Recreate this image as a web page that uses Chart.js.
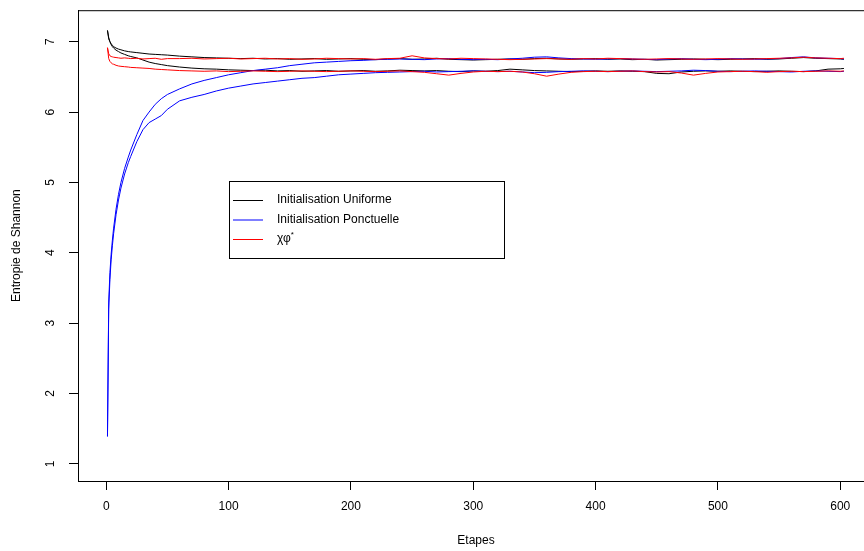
<!DOCTYPE html>
<html>
<head>
<meta charset="utf-8">
<script src="https://cdn.jsdelivr.net/npm/chart.js@4.4.1/dist/chart.umd.min.js"></script>
<style>
  html, body { margin: 0; padding: 0; background: #fff; }
  #wrap { width: 864px; height: 551px; }
</style>
</head>
<body>
<div id="wrap"><canvas id="lineChart" width="864" height="551"></canvas></div>
<script>
// etapes (x) shared by every curve
var etapes = [1,2,3,4,5,6,8,10,12,15,18,20,25,30,35,40,45,50,
  60,70,80,90,100,110,120,130,140,150,160,170,180,190,200,210,220,230,240,250,
  260,270,280,290,300,310,320,330,340,350,360,370,380,390,400,410,420,430,440,450,
  460,470,480,490,500,510,520,530,540,550,560,570,580,590,600,603];

var uniforme1 = [7.16,7.06,7.00,6.97,6.95,6.93,6.91,6.895,6.885,6.87,6.86,6.855,6.845,6.835,6.825,6.82,6.815,6.81,
  6.795,6.785,6.775,6.77,6.765,6.76,6.765,6.755,6.76,6.75,6.755,6.76,6.75,6.755,6.76,6.75,6.745,6.755,6.76,6.75,
  6.755,6.765,6.75,6.745,6.74,6.745,6.75,6.755,6.75,6.76,6.765,6.755,6.75,6.755,6.76,6.75,6.755,6.745,6.75,6.74,
  6.745,6.75,6.755,6.75,6.745,6.75,6.755,6.76,6.75,6.755,6.765,6.775,6.765,6.76,6.755,6.75];

var uniforme2 = [7.16,7.04,7.00,6.96,6.93,6.91,6.88,6.86,6.84,6.82,6.80,6.79,6.77,6.74,6.71,6.69,6.675,6.66,
  6.64,6.625,6.615,6.61,6.60,6.595,6.59,6.595,6.585,6.59,6.58,6.585,6.59,6.58,6.585,6.59,6.58,6.585,6.595,6.59,
  6.585,6.59,6.58,6.575,6.585,6.58,6.59,6.61,6.60,6.59,6.585,6.58,6.575,6.58,6.585,6.58,6.585,6.58,6.575,6.55,
  6.545,6.57,6.58,6.585,6.58,6.585,6.58,6.575,6.58,6.585,6.58,6.575,6.585,6.61,6.615,6.62];

var ponctuelle1 = [1.39,3.30,3.72,3.98,4.18,4.35,4.62,4.83,5.00,5.20,5.36,5.46,5.68,5.88,6.00,6.11,6.19,6.25,
  6.33,6.40,6.45,6.49,6.53,6.56,6.59,6.61,6.63,6.66,6.68,6.70,6.71,6.72,6.73,6.735,6.745,6.75,6.755,6.75,
  6.745,6.755,6.76,6.75,6.745,6.75,6.745,6.755,6.765,6.78,6.785,6.77,6.76,6.755,6.75,6.755,6.76,6.755,6.75,6.745,
  6.755,6.76,6.75,6.745,6.75,6.76,6.755,6.75,6.755,6.76,6.775,6.785,6.77,6.765,6.76,6.755];

var ponctuelle2 = [1.39,3.20,3.62,3.90,4.10,4.27,4.54,4.75,4.92,5.12,5.28,5.37,5.58,5.75,5.85,5.90,5.95,6.04,
  6.16,6.21,6.25,6.30,6.34,6.37,6.40,6.42,6.44,6.46,6.48,6.49,6.51,6.53,6.54,6.55,6.56,6.565,6.57,6.575,
  6.58,6.57,6.575,6.58,6.585,6.58,6.575,6.58,6.57,6.56,6.565,6.575,6.58,6.585,6.58,6.575,6.58,6.585,6.58,6.575,
  6.58,6.585,6.595,6.59,6.58,6.575,6.58,6.585,6.58,6.575,6.57,6.58,6.585,6.58,6.575,6.58];

var chiphi1 = [6.915,6.83,6.80,6.79,6.785,6.78,6.775,6.77,6.765,6.77,6.765,6.76,6.765,6.755,6.76,6.765,6.75,6.76,
  6.76,6.765,6.755,6.76,6.765,6.755,6.76,6.765,6.755,6.76,6.75,6.755,6.765,6.76,6.755,6.76,6.75,6.76,6.765,6.80,
  6.77,6.76,6.755,6.765,6.76,6.755,6.75,6.745,6.75,6.755,6.76,6.755,6.75,6.76,6.755,6.765,6.76,6.755,6.75,6.755,
  6.76,6.755,6.75,6.755,6.76,6.755,6.75,6.755,6.76,6.765,6.77,6.78,6.77,6.765,6.76,6.765];

var chiphi2 = [6.915,6.76,6.72,6.70,6.685,6.68,6.665,6.655,6.65,6.645,6.64,6.635,6.63,6.625,6.62,6.61,6.605,6.60,
  6.59,6.585,6.58,6.585,6.575,6.58,6.585,6.58,6.575,6.58,6.585,6.58,6.575,6.58,6.585,6.58,6.575,6.58,6.585,6.575,
  6.565,6.545,6.525,6.55,6.57,6.58,6.575,6.58,6.57,6.545,6.51,6.54,6.565,6.575,6.58,6.575,6.58,6.585,6.575,6.57,
  6.575,6.555,6.525,6.55,6.57,6.575,6.58,6.575,6.565,6.575,6.58,6.575,6.58,6.585,6.58,6.585];

var xTicks = [0,100,200,300,400,500,600];
var yTicks = [1,2,3,4,5,6,7];
var legendLabels = ['Initialisation Uniforme', 'Initialisation Ponctuelle', 'χφ'];
var legendColors = ['#000000', '#0000ff', '#ff0000'];

var FONT = 'Liberation Sans, Arial, Helvetica, sans-serif';

function pts(ys) {
    return etapes.map(function (x, i) { return { x: x, y: ys[i] }; });
}

function serie(label, ys, color, order) {
    return {
        label: label,
        data: pts(ys),
        borderColor: color,
        borderWidth: 1,
        pointRadius: 0,
        tension: 0,
        fill: false,
        order: order
    };
}

// box, rotated y labels, titles and legend drawn like R base graphics
var rStyle = {
    id: 'rStyle',
    afterDraw: function (chart) {
        var ctx = chart.ctx;
        var a = chart.chartArea;
        var ys = chart.scales.y;
        ctx.save();
        ctx.strokeStyle = '#000';
        ctx.lineWidth = 1;
        ctx.strokeRect(a.left + 0.5, a.top + 0.5, a.right - a.left + 10, a.bottom - a.top);

        ctx.fillStyle = '#000';
        ctx.font = '12px ' + FONT;
        ctx.textAlign = 'center';
        ctx.textBaseline = 'middle';
        yTicks.forEach(function (v) {
            ctx.save();
            ctx.translate(51, ys.getPixelForValue(v));
            ctx.rotate(-Math.PI / 2);
            ctx.fillText(String(v), 0, 0);
            ctx.restore();
        });

        ctx.save();
        ctx.translate(17, (a.top + a.bottom) / 2);
        ctx.rotate(-Math.PI / 2);
        ctx.fillText('Entropie de Shannon', 0, 0);
        ctx.restore();
        ctx.fillText('Etapes', 476, 541);

        // legend
        var lx = 229, ly = 181, lw = 275, lh = 77;
        ctx.strokeRect(lx + 0.5, ly + 0.5, lw, lh);
        ctx.textAlign = 'left';
        legendLabels.forEach(function (t, i) {
            var yy = ly + 19 + i * 19.5;
            ctx.strokeStyle = legendColors[i];
            ctx.beginPath();
            ctx.moveTo(lx + 4, yy + 0.5);
            ctx.lineTo(lx + 34, yy + 0.5);
            ctx.stroke();
            ctx.fillStyle = '#000';
            ctx.font = '12px ' + FONT;
            ctx.fillText(t, lx + 48, yy);
            if (i === 2) {
                var w = ctx.measureText(t).width;
                ctx.font = '8px ' + FONT;
                ctx.fillText('*', lx + 48 + w, yy - 4);
            }
        });
        ctx.restore();
    }
};

new Chart(document.querySelector('#lineChart'), {
    type: 'line',
    data: {
        datasets: [
            serie('Initialisation Uniforme', uniforme1, '#000000', 3),
            serie('Initialisation Uniforme', uniforme2, '#000000', 3),
            serie('Initialisation Ponctuelle', ponctuelle1, '#0000ff', 2),
            serie('Initialisation Ponctuelle', ponctuelle2, '#0000ff', 2),
            serie('χφ*', chiphi1, '#ff0000', 1),
            serie('χφ*', chiphi2, '#ff0000', 1)
        ]
    },
    options: {
        responsive: false,
        animation: false,
        layout: { padding: { top: 7, right: 0, left: 0, bottom: 0 } },
        plugins: { legend: { display: false }, tooltip: { enabled: false } },
        scales: {
            x: {
                type: 'linear',
                min: -23.1,
                max: 619.4,
                afterBuildTicks: function (s) { s.ticks = xTicks.map(function (v) { return { value: v }; }); },
                afterFit: function (s) { s.height = 70; },
                grid: { display: true, drawOnChartArea: false, drawTicks: true, tickLength: 9, color: '#000' },
                border: { display: true, color: '#000', width: 1 },
                ticks: { color: '#000', font: { family: FONT, size: 12 }, padding: 9, maxRotation: 0, autoSkip: false }
            },
            y: {
                type: 'linear',
                min: 0.756,
                max: 7.448,
                afterBuildTicks: function (s) { s.ticks = yTicks.map(function (v) { return { value: v }; }); },
                afterFit: function (s) { s.width = 78; },
                grid: { display: true, drawOnChartArea: false, drawTicks: true, tickLength: 9, color: '#000' },
                border: { display: true, color: '#000', width: 1 },
                ticks: { color: 'rgba(0,0,0,0)', font: { family: FONT, size: 12 } }
            }
        }
    },
    plugins: [rStyle]
});
</script>
</body>
</html>
